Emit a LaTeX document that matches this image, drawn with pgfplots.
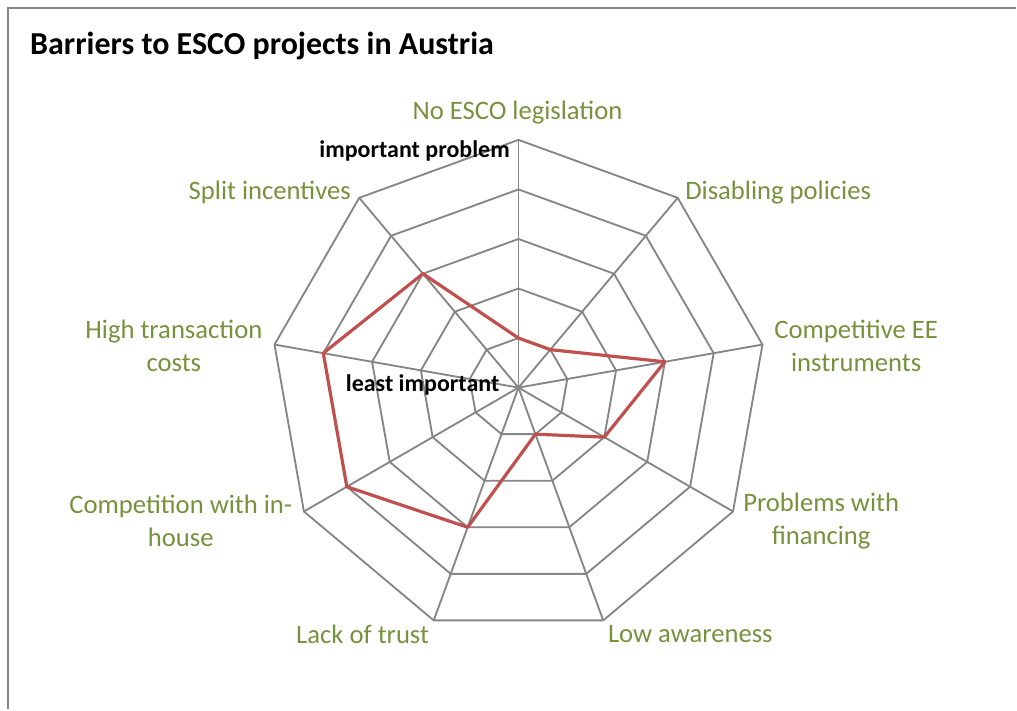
\documentclass[border=0pt]{standalone}
\usepackage{pgfplots}
\pgfplotsset{compat=1.18}
\usepackage{fontspec}
\setmainfont{Carlito}
\definecolor{lblgreen}{RGB}{118,146,60}
\definecolor{gridgray}{RGB}{134,134,134}
\definecolor{serred}{RGB}{192,80,77}
\tikzset{lbl/.style={font={\fontsize{20}{24.75}\selectfont}, text=lblgreen, align=center, inner sep=0pt}}
\begin{document}
\begin{tikzpicture}
\begin{axis}[
  x=37.2pt, y=37.2pt,
  xmin=-10.464, xmax=10.040, ymin=-6.492, ymax=7.823,
  hide axis, clip=false,
  data cs=polar,
]
% spokes
\foreach \a in {90,50,10,-30,-70,-110,-150,170,130}{
  \edef\temp{\noexpand\addplot[gridgray, line width=1.4pt, forget plot] coordinates {(\a,0) (\a,5)};}
  \temp
}
% rings
\foreach \r in {1,2,3,4,5}{
  \edef\temp{\noexpand\addplot[gridgray, line width=1.4pt, line join=miter, forget plot] coordinates {(90,\r) (50,\r) (10,\r) (-30,\r) (-70,\r) (-110,\r) (-150,\r) (170,\r) (130,\r) (90,\r)};}
  \temp
}
% data
\addplot[serred, line width=2.4pt, line join=round] coordinates {
  (90,1) (50,1) (10,3) (-30,2) (-70,1) (-110,3) (-150,4) (170,4) (130,3) (90,1)};
\end{axis}
\begin{axis}[
  x=37.2pt, y=37.2pt,
  xmin=-10.464, xmax=10.040, ymin=-6.492, ymax=7.823,
  hide axis, clip=false,
]
\path (axis cs:-10.464,-6.492) rectangle (axis cs:10.040,7.823);
\draw[gridgray, line width=1.6pt] (axis cs:-10.302,-6.492) -- (axis cs:-10.302,7.661) -- (axis cs:10.040,7.661);
\node[anchor=west, inner sep=0pt, font={\fontsize{24}{28}\selectfont\bfseries}] at (axis cs:-9.859,6.895) {Barriers to ESCO projects in Austria};
\node[lbl] at (axis cs:-0.02,5.545) {No ESCO legislation};
\node[lbl] at (axis cs:5.242,3.932) {Disabling policies};
\node[lbl] at (axis cs:6.815,0.837) {Competitive EE\\instruments};
\node[lbl] at (axis cs:6.109,-2.691) {Problems with\\financing};
\node[lbl] at (axis cs:3.468,-4.979) {Low awareness};
\node[lbl] at (axis cs:-3.145,-4.979) {Lack of trust};
\node[lbl] at (axis cs:-6.815,-2.691) {Competition with in-\\house};
\node[lbl] at (axis cs:-6.956,0.837) {High transaction\\costs};
\node[lbl] at (axis cs:-5.020,3.932) {Split incentives};
\node[inner sep=0pt, font={\fontsize{18}{20}\selectfont\bfseries}] at (axis cs:-2.097,4.778) {important problem};
\node[inner sep=0pt, font={\fontsize{18}{20}\selectfont\bfseries}] at (axis cs:-1.935,0.061) {least important};
\end{axis}
\end{tikzpicture}
\end{document}
